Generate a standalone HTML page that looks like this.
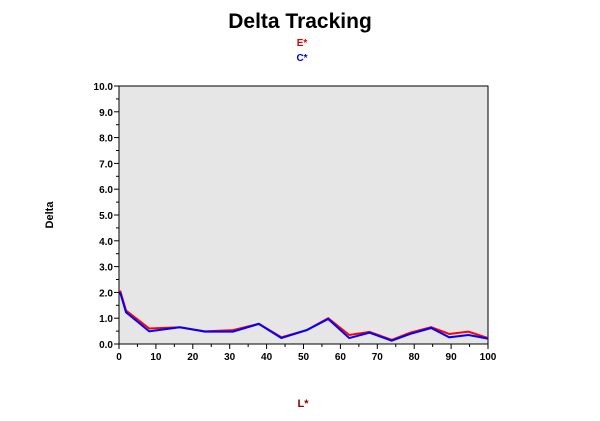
<!DOCTYPE html>
<html><head><meta charset="utf-8"><style>
html,body{margin:0;padding:0;background:#fff;width:600px;height:421px;overflow:hidden}
svg{font-family:"Liberation Sans",Arial,sans-serif}
</style></head><body>
<svg id="chart" width="600" height="421">
<text x="300" y="28" text-anchor="middle" font-size="21" font-weight="bold">Delta Tracking</text>
<text x="302" y="46" text-anchor="middle" font-size="10" font-weight="bold" fill="#e00000">E*</text>
<text x="302" y="61" text-anchor="middle" font-size="10" font-weight="bold" fill="#0000e0">C*</text>
<rect x="119" y="86" width="369" height="258" fill="#e6e6e6" stroke="#000" stroke-width="1"/>
<g id="yaxis"></g>
<g id="xaxis"></g>
<text x="53" y="215" text-anchor="middle" font-size="11" font-weight="bold" transform="rotate(-90 53 215)">Delta</text>
<text x="303" y="407" text-anchor="middle" font-size="11" font-weight="bold" fill="#8b0000">L*</text>
<g id="series"></g>
</svg>
<script>
const xValues=[0.3,1.9,8.2,16.5,23.3,30.9,37.9,44,50.9,56.7,62.4,67.9,73.9,78.9,84.6,89.5,94.7,100];
const eValues=[2.07,1.3,0.6,0.65,0.49,0.54,0.78,0.26,0.54,1.0,0.35,0.47,0.16,0.44,0.65,0.39,0.48,0.23];
const cValues=[2.0,1.23,0.49,0.65,0.48,0.48,0.78,0.23,0.54,0.97,0.23,0.44,0.13,0.39,0.62,0.26,0.35,0.21];
const yTicks=[0,1,2,3,4,5,6,7,8,9,10];
const xTicks=[0,10,20,30,40,50,60,70,80,90,100];
const NS="http://www.w3.org/2000/svg";
const X0=119,X1=488,Y0=344,Y1=86;
function sx(v){return X0+(v/100)*(X1-X0);}
function sy(v){return Y0-(v/10)*(Y0-Y1);}
function mk(t,a,p){const e=document.createElementNS(NS,t);for(const k in a)e.setAttribute(k,a[k]);p.appendChild(e);return e;}
const ya=document.getElementById('yaxis'),xa=document.getElementById('xaxis'),sg=document.getElementById('series');
yTicks.forEach(t=>{
  const y=sy(t);
  const l=mk('line',{x1:X0-5,x2:X0,y1:y,y2:y,stroke:'#000'},ya);
  
  
  if(t<10){const m=mk('line',{x1:X0-3,x2:X0,y1:sy(t+0.5),y2:sy(t+0.5),stroke:'#000'},ya);
  
  }
  const tx=mk('text',{x:X0-6,y:y+4,'text-anchor':'end','font-size':10,'font-weight':'bold'},ya);
  tx.textContent=t.toFixed(1);
  
  
});
xTicks.forEach(t=>{
  const x=sx(t);
  const l=mk('line',{x1:x,x2:x,y1:Y0,y2:Y0+5,stroke:'#000'},xa);
  
  
  if(t<100){const m=mk('line',{x1:sx(t+5),x2:sx(t+5),y1:Y0,y2:Y0+3,stroke:'#000'},xa);
  
  }
  const tx=mk('text',{x:x,y:Y0+16,'text-anchor':'middle','font-size':10,'font-weight':'bold'},xa);
  tx.textContent=t;
  
  
});
function line(vals,col,name){
  const p=mk('polyline',{points:vals.map((v,i)=>sx(xValues[i])+','+sy(v)).join(' '),fill:'none',stroke:col,'stroke-width':2},sg);
  
  
}
line(eValues,'#ff0000','e-series-line');
line(cValues,'#0000ff','c-series-line');
</script>
</body></html>
